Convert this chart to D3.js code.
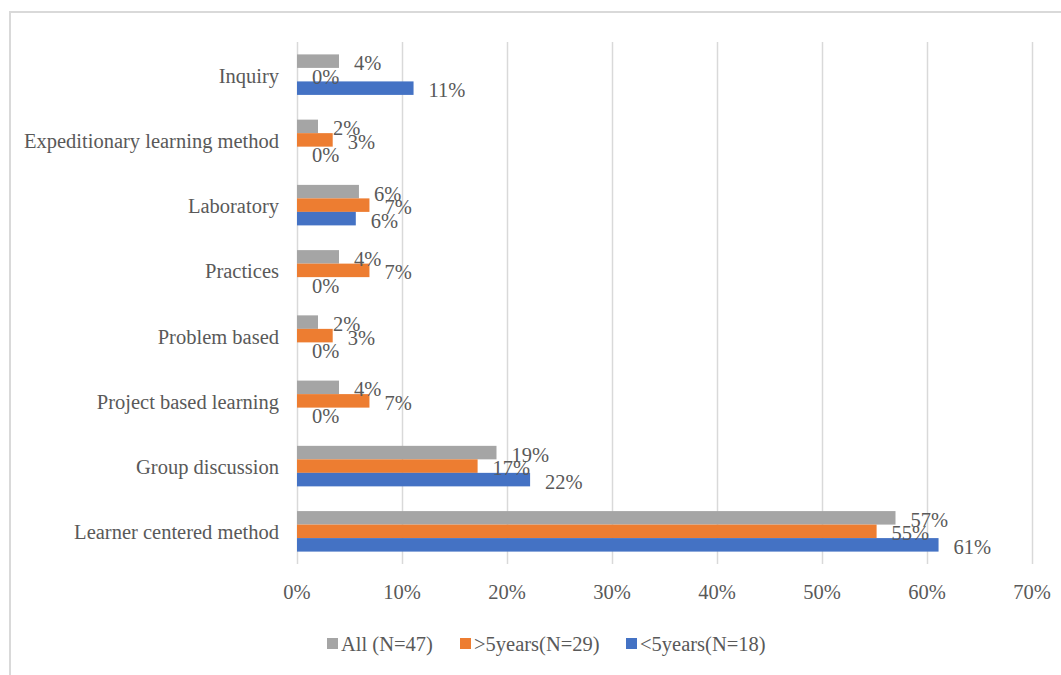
<!DOCTYPE html>
<html>
<head>
<meta charset="utf-8">
<script src="https://cdn.jsdelivr.net/npm/d3@7"></script>
<style>
    body { margin: 0; background: #fff; }
    svg { display: block; font-family: 'Liberation Serif', 'Times New Roman', serif; }
    .grid line { stroke: #d9d9d9; stroke-width: 1.5; }
    .grid .domain { display: none; }
    text { fill: #595959; font-size: 20.5px; }
</style>
</head>
<body>
<div id="chart"></div>
<script>
const categories = [
    'Inquiry',
    'Expeditionary learning method',
    'Laboratory',
    'Practices',
    'Problem based',
    'Project based learning',
    'Group discussion',
    'Learner centered method'
];
const seriesNames = ['All (N=47)', '>5years(N=29)', '<5years(N=18)'];
const allValues = [0.040, 0.020, 0.059, 0.040, 0.020, 0.040, 0.190, 0.570];
const over5Values = [0.000, 0.034, 0.069, 0.069, 0.034, 0.069, 0.172, 0.552];
const under5Values = [0.111, 0.000, 0.056, 0.000, 0.000, 0.000, 0.222, 0.611];
const xTicks = [0, 0.1, 0.2, 0.3, 0.4, 0.5, 0.6, 0.7];

const COLORS = ['#a5a5a5', '#ed7d31', '#4472c4'];

const W = 1061;
const H = 675;
const plot = { left: 297, right: 1032, top: 42, bottom: 564 };

const svg = d3.select('#chart').append('svg')
    .attr('width', W)
    .attr('height', H);

// chart frame (only top and left edges are visible in the picture)
svg.append('path')
    .attr('d', `M10,${H} L10,12 L${W},12`)
    .attr('fill', 'none')
    .attr('stroke', '#d9d9d9')
    .attr('stroke-width', 2);

const x = d3.scaleLinear()
    .domain([0, 0.7])
    .range([plot.left, plot.right]);

const y = d3.scaleBand()
    .domain(categories)
    .range([plot.top, plot.bottom])
    .paddingInner(0.379)
    .paddingOuter(0.19);

const ySeries = d3.scaleBand()
    .domain(seriesNames)
    .range([0, y.bandwidth()]);

// vertical gridlines
svg.append('g')
    .attr('class', 'grid')
    .attr('transform', `translate(0,${plot.top})`)
    .call(d3.axisBottom(x).tickValues(xTicks).tickSize(plot.bottom - plot.top).tickFormat(''));

// x tick labels
svg.append('g')
    .selectAll('text')
    .data(xTicks)
    .enter()
    .append('text')
    .attr('x', (d) => x(d))
    .attr('y', 599)
    .attr('text-anchor', 'middle')
    .text(d3.format('.0%'));

// category labels
svg.append('g')
    .selectAll('text')
    .data(categories)
    .enter()
    .append('text')
    .attr('x', 279)
    .attr('y', (d) => y(d) + y.bandwidth() / 2 + 8)
    .attr('text-anchor', 'end')
    .text((d) => d);

const rows = [];
categories.forEach((cat, i) => {
    [allValues, over5Values, under5Values].forEach((vals, s) => {
        rows.push({ cat: cat, series: seriesNames[s], color: COLORS[s], value: vals[i] });
    });
});

svg.append('g')
    .selectAll('rect')
    .data(rows)
    .enter()
    .append('rect')
    .attr('x', x(0))
    .attr('y', (d) => y(d.cat) + ySeries(d.series))
    .attr('width', (d) => x(d.value) - x(0))
    .attr('height', ySeries.bandwidth())
    .attr('fill', (d) => d.color);

// value labels (they overlap in the original too)
svg.append('g')
    .selectAll('text')
    .data(rows)
    .enter()
    .append('text')
    .attr('x', (d) => x(d.value) + 15)
    .attr('y', (d) => y(d.cat) + ySeries(d.series) + ySeries.bandwidth() / 2 + 9)
    .text((d) => d3.format('.0%')(d.value));

// legend
const legendX = [327, 460, 626];
const legend = svg.append('g')
    .selectAll('g')
    .data(seriesNames)
    .enter()
    .append('g')
    .attr('transform', (d, i) => `translate(${legendX[i]},638)`);

legend.append('rect')
    .attr('width', 11)
    .attr('height', 11)
    .attr('fill', (d, i) => COLORS[i]);

legend.append('text')
    .attr('x', 14)
    .attr('y', 13)
    .text((d) => d);
</script>
</body>
</html>
